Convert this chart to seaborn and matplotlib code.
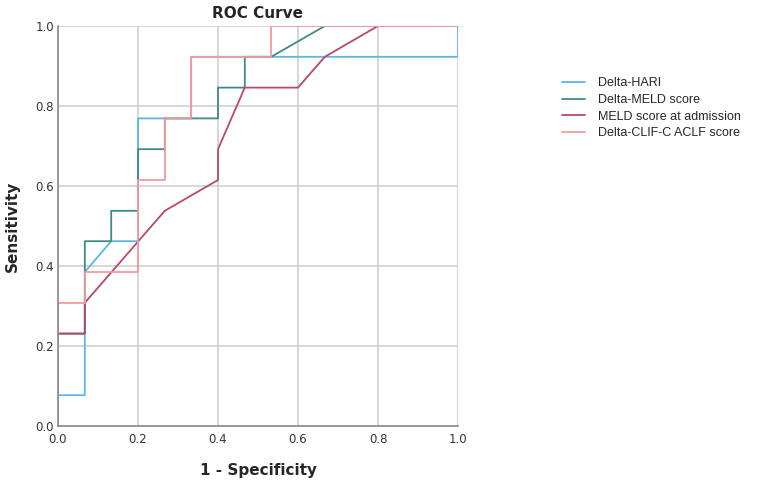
import pandas as pd
import seaborn as sns
import matplotlib
matplotlib.use("Agg")
import matplotlib.pyplot as plt

# ROC curve points (1 - specificity, sensitivity)
hari_fpr = [0.0, 0.0, 0.067, 0.067, 0.133, 0.2, 0.2, 0.333, 0.333, 1.0, 1.0]
hari_tpr = [0.0, 0.077, 0.077, 0.385, 0.462, 0.462, 0.769, 0.769, 0.923, 0.923, 1.0]

meld_fpr = [0.0, 0.0, 0.067, 0.067, 0.133, 0.133, 0.2, 0.2, 0.267, 0.267, 0.4, 0.4, 0.467, 0.467, 0.533, 0.667, 1.0]
meld_tpr = [0.0, 0.231, 0.231, 0.462, 0.462, 0.538, 0.538, 0.692, 0.692, 0.769, 0.769, 0.846, 0.846, 0.923, 0.923, 1.0, 1.0]

adm_fpr = [0.0, 0.0, 0.067, 0.067, 0.267, 0.4, 0.4, 0.467, 0.6, 0.667, 0.8, 1.0]
adm_tpr = [0.0, 0.231, 0.231, 0.308, 0.538, 0.615, 0.692, 0.846, 0.846, 0.923, 1.0, 1.0]

clif_fpr = [0.0, 0.0, 0.067, 0.067, 0.2, 0.2, 0.267, 0.267, 0.333, 0.333, 0.533, 0.533, 1.0]
clif_tpr = [0.0, 0.308, 0.308, 0.385, 0.385, 0.615, 0.615, 0.769, 0.769, 0.923, 0.923, 1.0, 1.0]

names = ["Delta-HARI", "Delta-MELD score", "MELD score at admission", "Delta-CLIF-C ACLF score"]
colors = ["#5db6ea", "#3f8a86", "#b9476f", "#f79a9c"]
ticks = [0.0, 0.2, 0.4, 0.6, 0.8, 1.0]

curves = [(hari_fpr, hari_tpr), (meld_fpr, meld_tpr), (adm_fpr, adm_tpr), (clif_fpr, clif_tpr)]
frames = []
for name, (fx, fy) in zip(names, curves):
    d = pd.DataFrame({"fpr": fx, "tpr": fy})
    d["model"] = name
    frames.append(d)
df = pd.concat(frames, ignore_index=True)

sns.set_theme(style="white")
plt.rcParams["font.family"] = ["DejaVu Sans"]

fig = plt.figure(figsize=(7.65, 4.82), dpi=100)
ax = fig.add_axes([58 / 765, 56 / 482, 400 / 765, 400 / 482])

for t in ticks:
    ax.axhline(t, color="#cfcfcf", lw=1.2, zorder=0)
    ax.axvline(t, color="#cfcfcf", lw=1.2, zorder=0)

sns.lineplot(data=df, x="fpr", y="tpr", hue="model", palette=dict(zip(names, colors)),
             hue_order=names, estimator=None, sort=False, lw=1.3, ax=ax)

ax.set_xlim(0, 1)
ax.set_ylim(0, 1)
ax.set_xticks(ticks)
ax.set_yticks(ticks)
ax.set_xticklabels([f"{t:.1f}" for t in ticks])
ax.set_yticklabels([f"{t:.1f}" for t in ticks])
ax.tick_params(axis="both", length=0, labelsize=8.5, labelcolor="#333333")
ax.tick_params(axis="x", pad=5)
ax.tick_params(axis="y", pad=3)

for side in ["top", "right"]:
    ax.spines[side].set_visible(False)
for side in ["left", "bottom"]:
    ax.spines[side].set_color("#8a8a8a")
    ax.spines[side].set_linewidth(1.2)

ax.set_title("ROC Curve", fontsize=11, fontweight="bold", pad=6, x=0.5)
ax.set_xlabel("1 - Specificity", fontsize=11, fontweight="bold", labelpad=12)
ax.set_ylabel("Sensitivity", fontsize=11, fontweight="bold", labelpad=11)

leg = ax.legend(title=None, loc="upper left", bbox_to_anchor=(1.232, 0.90), frameon=False,
                prop={"family": ["Liberation Sans", "DejaVu Sans"], "size": 9},
                handlelength=1.8, labelspacing=0.38, handletextpad=1.1)

fig.savefig("out.png", dpi=100)
